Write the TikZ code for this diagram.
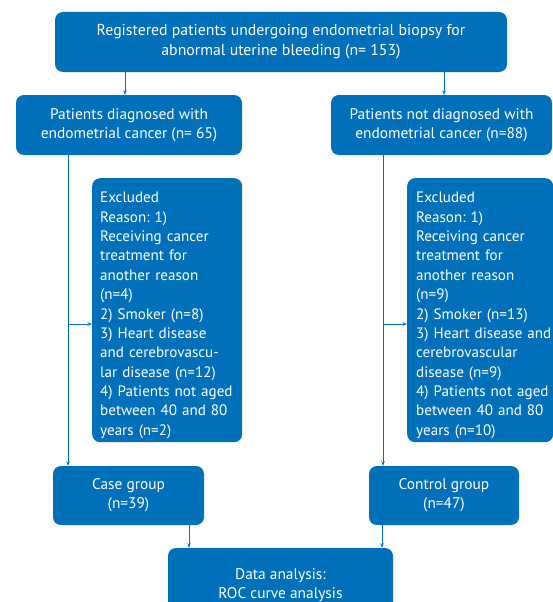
\documentclass[tikz,border=0pt]{standalone}
\usepackage{fontspec}
\setmainfont{PT Sans}
\frenchspacing
\usetikzlibrary{arrows.meta}
\definecolor{boxblue}{RGB}{0,112,186}
\newcommand{\exl}[1]{\mbox{#1}}
\begin{document}
\begin{tikzpicture}[x=1pt,y=-1pt,
  box/.style={fill=boxblue, rounded corners=8pt, text=white,
    font=\fontsize{15.4}{19.4}\selectfont, align=center, inner sep=0pt},
  exbox/.style={box, font=\fontsize{15.1}{19.35}\selectfont, align=left, anchor=north west, inner xsep=8pt},
  arr/.style={draw=boxblue, line width=0.9pt, -{Stealth[length=4.5pt,width=3.5pt]}}]
\useasboundingbox (0,0) rectangle (553,602);

\node[box, font=\fontsize{15.8}{19.8}\selectfont, minimum width=452pt, minimum height=60pt] (top) at (281,42)
  {Registered patients undergoing endometrial biopsy for\\abnormal uterine bleeding (n=~153)};
\node[box, minimum width=226pt, minimum height=60pt] (diag) at (129,125)
  {Patients diagnosed with\\endometrial cancer (n=~65)};
\node[box, minimum width=221pt, minimum height=60pt] (notdiag) at (441.5,125)
  {Patients not diagnosed with\\endometrial cancer (n=88)};

\node[exbox, text width=134pt, minimum height=264pt] (excl1) at (92,178)
  {\exl{\rule{0pt}{21pt}Excluded}\\\exl{Reason: 1)}\\\exl{Receiving cancer}\\\exl{treatment for}\\\exl{another reason}\\\exl{(n=4)}\\\exl{2) Smoker (n=8)}\\\exl{3) Heart disease}\\\exl{and cerebrovascu-}\\\exl{lar disease (n=12)}\\\exl{4) Patients not aged}\\\exl{between 40 and 80}\\\exl{years (n=2)}};
\node[exbox, inner xsep=9pt, text width=128pt, minimum height=264pt] (excl2) at (407,178)
  {\exl{\rule{0pt}{21pt}Excluded}\\\exl{Reason: 1)}\\\exl{Receiving cancer}\\\exl{treatment for}\\\exl{another reason}\\\exl{(n=9)}\\\exl{2) Smoker (n=13)}\\\exl{3) Heart disease and}\\\exl{cerebrovascular}\\\exl{disease (n=9)}\\\exl{4) Patients not aged}\\\exl{between 40 and 80}\\\exl{years (n=10)}};

\node[box, minimum width=151pt, minimum height=59pt] (case) at (128.5,495.5)
  {Case group\\(n=39)};
\node[box, minimum width=150pt, minimum height=59pt] (control) at (444,495.5)
  {Control group\\(n=47)};
\node[box, minimum width=225pt, minimum height=74pt] (data) at (280.5,585)
  {Data analysis:\\ROC curve analysis};

\coordinate (a1) at (125,0);
\coordinate (a2) at (444,0);
\coordinate (s1) at (68,0);
\coordinate (s2) at (383,0);
\coordinate (b1) at (0,324);
\coordinate (c1) at (189,0);
\coordinate (c2) at (382,0);

\draw[arr] (top.south -| a1) -- (diag.north -| a1);
\draw[arr] (top.south -| a2) -- (notdiag.north -| a2);
\draw[arr] (diag.south -| s1) -- (case.north -| s1);
\draw[arr] (s1 |- b1) -- (excl1.west |- b1);
\draw[arr] (notdiag.south -| s2) -- (control.north -| s2);
\draw[arr] (s2 |- b1) -- (excl2.west |- b1);
\draw[arr] (case.south -| c1) -- (data.north -| c1);
\draw[arr] (control.south -| c2) -- (data.north -| c2);
\end{tikzpicture}
\end{document}
